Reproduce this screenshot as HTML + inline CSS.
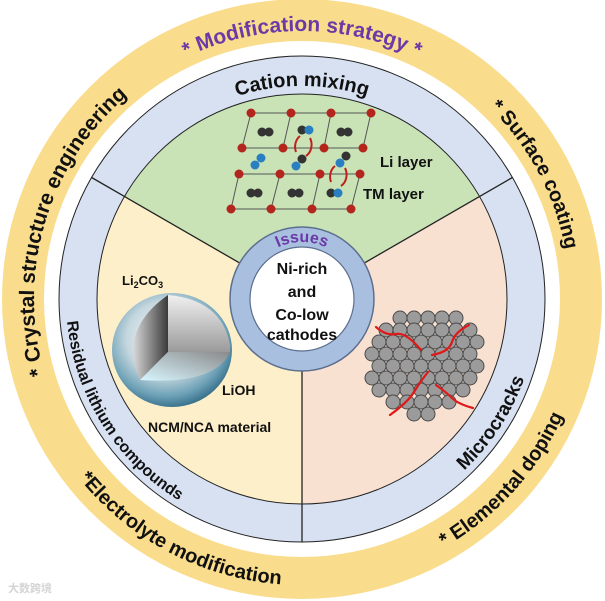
<!DOCTYPE html>
<html><head><meta charset="utf-8"><style>
html,body{margin:0;padding:0;background:#fff;}
svg{display:block;}
text{font-family:"Liberation Sans","Noto Sans CJK SC",sans-serif;font-weight:bold;}
</style></head><body>
<svg width="605" height="601" viewBox="0 0 605 601" xmlns="http://www.w3.org/2000/svg">
<defs>
<path id="cw268" d="M302,567 A268,268 0 1 1 302,31 A268,268 0 1 1 302,567"/>
<path id="ccw286" d="M16,299 A286,286 0 1 0 588,299 A286,286 0 1 0 16,299"/>
<path id="cw213" d="M89,299 A213,213 0 1 1 515,299 A213,213 0 1 1 89,299"/>
<path id="ccw236" d="M66,299 A236,236 0 1 0 538,299 A236,236 0 1 0 66,299"/>
<path id="cw57" d="M245,299 A57,57 0 1 1 359,299 A57,57 0 1 1 245,299"/>
<radialGradient id="sph" cx="0.45" cy="0.4" r="0.6">
<stop offset="0" stop-color="#ffffff"/><stop offset="0.55" stop-color="#c4d6de"/><stop offset="0.85" stop-color="#6a9fb5"/><stop offset="1" stop-color="#3d7590"/></radialGradient>
<linearGradient id="lf" x1="0" y1="0" x2="1" y2="0"><stop offset="0" stop-color="#d8d8d8"/><stop offset="1" stop-color="#3a3a3a"/></linearGradient>
<linearGradient id="rf" x1="0" y1="0" x2="0" y2="1"><stop offset="0" stop-color="#f0f0f0"/><stop offset="1" stop-color="#9a9a9a"/></linearGradient>
<linearGradient id="bf" x1="0" y1="1" x2="1" y2="0"><stop offset="0" stop-color="#d8f6ff"/><stop offset="1" stop-color="#8a8a8a"/></linearGradient>
</defs>
<circle cx="302" cy="299" r="300" fill="#f9dc8c"/>
<circle cx="302" cy="299" r="258" fill="#ffffff"/>
<circle cx="302" cy="299" r="243" fill="#d7e1f2" stroke="#222" stroke-width="1"/>
<path d="M302,299 L124.5,196.5 A205,205 0 0 1 479.5,196.5 Z" fill="#c9e3b7"/>
<path d="M302,299 L479.5,196.5 A205,205 0 0 1 302,504 Z" fill="#f9e1d2"/>
<path d="M302,299 L302,504 A205,205 0 0 1 124.5,196.5 Z" fill="#fdefc9"/>
<circle cx="302" cy="299" r="205" fill="none" stroke="#222" stroke-width="1"/>
<g stroke="#222" stroke-width="1.3">
<line x1="302" y1="299" x2="91.6" y2="177.5"/><line x1="302" y1="299" x2="512.4" y2="177.5"/><line x1="302" y1="299" x2="302" y2="542"/>
</g>
<!-- outer texts -->
<text font-size="21" fill="#6b3aa6"><textPath href="#cw268" startOffset="50%" text-anchor="middle">* Modification strategy *</textPath></text>
<text font-size="20" fill="#111"><textPath href="#cw268" startOffset="67.2%" text-anchor="middle">* Surface coating</textPath></text>
<text font-size="21" fill="#111"><textPath href="#cw268" startOffset="29.6%" text-anchor="middle">* Crystal structure engineering</textPath></text>
<text font-size="20" fill="#111"><textPath href="#ccw286" startOffset="17.3%" text-anchor="middle">*Electrolyte modification</textPath></text>
<text font-size="20" fill="#111"><textPath href="#ccw286" startOffset="38.3%" text-anchor="middle">* Elemental doping</textPath></text>
<text font-size="20" fill="#111"><textPath href="#cw213" startOffset="25%" text-anchor="middle">Cation mixing</textPath></text>
<text font-size="16" fill="#111"><textPath href="#ccw236" startOffset="8.9%" text-anchor="middle">Residual lithium compounds</textPath></text>
<text font-size="19" fill="#111"><textPath href="#ccw236" startOffset="40.8%" text-anchor="middle">Microcracks</textPath></text>
<!-- lattice -->
<g stroke="#555" stroke-width="1" fill="none">
<polyline points="251,113 371,113 363,148 242,148 251,113"/>
<line x1="291" y1="113" x2="283" y2="148"/><line x1="331" y1="113" x2="324" y2="148"/>
<polyline points="239,174 360,174 351,209 231,209 239,174"/>
<line x1="280" y1="174" x2="271" y2="209"/><line x1="320" y1="174" x2="312" y2="209"/>
</g>
<g fill="#b3261e">
<circle cx="251" cy="113" r="4.5"/><circle cx="291" cy="113" r="4.5"/><circle cx="331" cy="113" r="4.5"/><circle cx="371" cy="113" r="4.5"/>
<circle cx="242" cy="148" r="4.5"/><circle cx="283" cy="148" r="4.5"/><circle cx="324" cy="148" r="4.5"/><circle cx="363" cy="148" r="4.5"/>
<circle cx="239" cy="174" r="4.5"/><circle cx="280" cy="174" r="4.5"/><circle cx="320" cy="174" r="4.5"/><circle cx="360" cy="174" r="4.5"/>
<circle cx="231" cy="209" r="4.5"/><circle cx="271" cy="209" r="4.5"/><circle cx="312" cy="209" r="4.5"/><circle cx="351" cy="209" r="4.5"/>
</g>
<g>
<circle cx="262" cy="132" r="4.5" fill="#333"/><circle cx="269" cy="132" r="4.5" fill="#333"/>
<circle cx="302" cy="130" r="4.5" fill="#333"/><circle cx="309" cy="130" r="4.5" fill="#2a7fc0"/>
<circle cx="341" cy="132" r="4.5" fill="#333"/><circle cx="348" cy="132" r="4.5" fill="#333"/>
<circle cx="255" cy="165" r="4.5" fill="#2a7fc0"/><circle cx="261" cy="158" r="4.5" fill="#2a7fc0"/>
<circle cx="296" cy="166" r="4.5" fill="#2a7fc0"/><circle cx="302" cy="159" r="4.5" fill="#333"/>
<circle cx="340" cy="163" r="4.5" fill="#2a7fc0"/><circle cx="346" cy="156" r="4.5" fill="#333"/>
<circle cx="251" cy="193" r="4.5" fill="#333"/><circle cx="258" cy="193" r="4.5" fill="#333"/>
<circle cx="292" cy="193" r="4.5" fill="#333"/><circle cx="299" cy="193" r="4.5" fill="#333"/>
<circle cx="331" cy="193" r="4.5" fill="#333"/><circle cx="338" cy="193" r="4.5" fill="#2a7fc0"/>
</g>
<g fill="none" stroke="#c0201a" stroke-width="2">
<path d="M296,152 A11,13 0 0 1 300,136"/><path d="M310,138 A11,13 0 0 1 306,156"/>
<path d="M331,182 A11,13 0 0 1 335,166"/><path d="M345,168 A11,13 0 0 1 341,186"/>
</g>
<text x="380" y="167" font-size="15" fill="#111">Li layer</text>
<text x="363" y="199" font-size="15" fill="#111">TM layer</text>
<!-- sphere -->
<text x="122" y="285" font-size="13" fill="#111">Li<tspan font-size="9" dy="3">2</tspan><tspan dy="-3">CO</tspan><tspan font-size="9" dy="3">3</tspan></text>
<ellipse cx="172" cy="350" rx="60" ry="57" fill="url(#sph)"/>
<path d="M168,295 L168,352 L140,380 Q118,330 168,295 Z" fill="url(#lf)"/>
<path d="M168,295 Q222,300 230,345 L230,352 L168,352 Z" fill="url(#rf)"/>
<path d="M168,352 L230,352 Q215,385 140,380 Z" fill="url(#bf)"/>
<text x="222" y="395" font-size="14" fill="#111">LiOH</text>
<text x="148" y="432" font-size="14" fill="#111">NCM/NCA material</text>
<!-- particles -->
<g fill="#9b9b9b" stroke="#4a4a4a" stroke-width="1">
<circle cx="400" cy="318" r="7"/><circle cx="414" cy="318" r="7"/><circle cx="428" cy="318" r="7"/><circle cx="442" cy="318" r="7"/><circle cx="456" cy="318" r="7"/>
<circle cx="386" cy="330" r="7"/><circle cx="400" cy="330" r="7"/><circle cx="414" cy="330" r="7"/><circle cx="428" cy="330" r="7"/><circle cx="442" cy="330" r="7"/><circle cx="456" cy="330" r="7"/><circle cx="470" cy="330" r="7"/>
<circle cx="379" cy="342" r="7"/><circle cx="393" cy="342" r="7"/><circle cx="407" cy="342" r="7"/><circle cx="421" cy="342" r="7"/><circle cx="435" cy="342" r="7"/><circle cx="449" cy="342" r="7"/><circle cx="463" cy="342" r="7"/><circle cx="477" cy="342" r="7"/>
<circle cx="372" cy="354" r="7"/><circle cx="386" cy="354" r="7"/><circle cx="400" cy="354" r="7"/><circle cx="414" cy="354" r="7"/><circle cx="428" cy="354" r="7"/><circle cx="442" cy="354" r="7"/><circle cx="456" cy="354" r="7"/><circle cx="470" cy="354" r="7"/>
<circle cx="379" cy="366" r="7"/><circle cx="393" cy="366" r="7"/><circle cx="407" cy="366" r="7"/><circle cx="421" cy="366" r="7"/><circle cx="435" cy="366" r="7"/><circle cx="449" cy="366" r="7"/><circle cx="463" cy="366" r="7"/><circle cx="477" cy="366" r="7"/>
<circle cx="372" cy="378" r="7"/><circle cx="386" cy="378" r="7"/><circle cx="400" cy="378" r="7"/><circle cx="414" cy="378" r="7"/><circle cx="428" cy="378" r="7"/><circle cx="442" cy="378" r="7"/><circle cx="456" cy="378" r="7"/><circle cx="470" cy="378" r="7"/>
<circle cx="379" cy="390" r="7"/><circle cx="393" cy="390" r="7"/><circle cx="407" cy="390" r="7"/><circle cx="421" cy="390" r="7"/><circle cx="435" cy="390" r="7"/><circle cx="449" cy="390" r="7"/><circle cx="463" cy="390" r="7"/>
<circle cx="393" cy="402" r="7"/><circle cx="407" cy="402" r="7"/><circle cx="421" cy="402" r="7"/><circle cx="435" cy="402" r="7"/><circle cx="449" cy="402" r="7"/>
<circle cx="414" cy="414" r="7"/><circle cx="428" cy="414" r="7"/>
</g>
<g fill="none" stroke="#e01818" stroke-width="2.2" stroke-linecap="round">
<path d="M376,327 Q386,336 396,334 T421,350"/>
<path d="M469,325 Q455,332 452,342 T432,355"/>
<path d="M428,372 Q420,382 414,392 T390,415"/>
<path d="M436,385 Q446,392 452,398 T473,408"/>
</g>
<!-- center -->
<circle cx="302" cy="299" r="72" fill="#a9bfe0" stroke="#5c6f8e" stroke-width="1.5"/>
<circle cx="302" cy="299" r="52" fill="#fff" stroke="#5c6f8e" stroke-width="1.2"/>
<text font-size="16" fill="#6b3aa6"><textPath href="#cw57" startOffset="25%" text-anchor="middle">Issues</textPath></text>
<g font-size="16" fill="#111" text-anchor="middle">
<text x="302" y="274">Ni-rich</text><text x="302" y="297">and</text><text x="302" y="320">Co-low</text><text x="302" y="340">cathodes</text>
</g>
<text x="8" y="592" font-size="11" fill="#d4d4d4" font-weight="normal">大数跨境</text>
</svg>
</body></html>
